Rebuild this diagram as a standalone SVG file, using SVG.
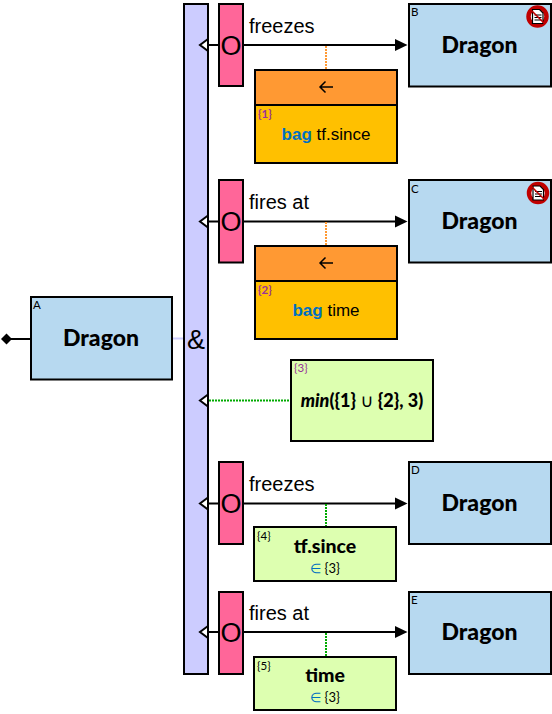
<svg xmlns="http://www.w3.org/2000/svg" width="552" height="714" viewBox="0 0 552 714">
<style>
.box{stroke:#000;stroke-width:2}
.ent{fill:#b7d9f0}
.pink{fill:#ff6699}
.calc{fill:#ddffb0}
.orange{fill:#ff9933}
.gold{fill:#ffc000}
.bar{fill:#ccccff}
.big{font:900 23px Lato,"Liberation Sans",sans-serif;text-anchor:middle}
.mid{font:900 19.500px Lato,"Liberation Sans",sans-serif;text-anchor:middle}
.rel{font:20px "Liberation Sans",sans-serif}
.t{font:17px "Liberation Sans",sans-serif;text-anchor:middle}
.sym{font:27px "Liberation Sans",sans-serif;text-anchor:middle}
.tag{font:11.500px Lato,"Liberation Sans",sans-serif}
.ref{font:bold 11.500px Lato,"Liberation Sans",sans-serif;fill:#993399}
.kw{font-weight:bold;fill:#0070c0}
.line{stroke:#000;stroke-width:2;fill:none}
.dotg{stroke:#00aa00;stroke-width:2;stroke-dasharray:2 1;fill:none}
.doto{stroke:#ff9933;stroke-width:2;stroke-dasharray:2 1;fill:none}
.open{fill:#fff;stroke:#000;stroke-width:2}
</style>
<defs>
<g id="noedit">
<circle r="9" fill="#fff" stroke="#c00000" stroke-width="4.500"/>
<path d="M-5-7H2L5.500-3.500V7H-5Z" fill="#fff" stroke="#000" stroke-width="1.200"/>
<path d="M-3-1.500H4M-3 1H4M-3 3.500H4" stroke="#000" stroke-width="1.200"/>
<path d="M-7-7L7 7" stroke="#c00000" stroke-width="1.500"/>
</g>
</defs>
<g id="connectors">
<path class="line" d="M6 339H31"/>
<path d="M1 339L6.500 333.500L12 339L6.500 344.500Z" fill="#000"/>
<path d="M172 338.500H184" stroke="#ccccff" stroke-width="2"/>
<path class="line" d="M208 45H396"/><path d="M395 39L407.500 45L395 51Z" fill="#000"/>
<path class="line" d="M208 221.500H396"/><path d="M395 215.500L407.500 221.500L395 227.500Z" fill="#000"/>
<path class="line" d="M208 503.500H396"/><path d="M395 497.500L407.500 503.500L395 509.500Z" fill="#000"/>
<path class="line" d="M208 632H396"/><path d="M395 626L407.500 632L395 638Z" fill="#000"/>
<path class="doto" d="M326 46V69"/>
<path class="doto" d="M326 222V245"/>
<path class="dotg" d="M326 504V527"/>
<path class="dotg" d="M326 633V657"/>
<path class="dotg" d="M209 400.500H290"/>
</g>
<g id="bar"><rect class="box bar" x="184" y="4" width="24" height="670"/>
<text class="sym" x="196" y="349">&amp;</text>
<path class="open" d="M208 39L200 45L208 51Z"/>
<path class="open" d="M208 215.500L200 221.500L208 227.500Z"/>
<path class="open" d="M208 394.500L200 400.500L208 406.500Z"/>
<path class="open" d="M208 497.500L200 503.500L208 509.500Z"/>
<path class="open" d="M208 626L200 632L208 638Z"/>
</g>
<g id="nodeA"><rect class="box ent" x="31" y="297" width="141" height="82.500"/><text class="tag" x="33" y="309">A</text><text class="big" x="101" y="346">Dragon</text></g>
<g id="or1"><rect class="box pink" x="219" y="4" width="24" height="82"/><text class="sym" x="231" y="54.500">O</text></g>
<g id="or2"><rect class="box pink" x="219" y="180" width="24" height="82.500"/><text class="sym" x="231" y="230.500">O</text></g>
<g id="or3"><rect class="box pink" x="219" y="462" width="24" height="82"/><text class="sym" x="231" y="512.500">O</text></g>
<g id="or4"><rect class="box pink" x="219" y="592" width="24" height="82"/><text class="sym" x="231" y="641.500">O</text></g>
<text class="rel" x="249" y="33">freezes</text>
<text class="rel" x="249" y="209">fires at</text>
<text class="rel" x="249" y="491">freezes</text>
<text class="rel" x="249" y="620">fires at</text>
<g id="nodeB"><rect class="box ent" x="409" y="4" width="142" height="82.500"/><text class="tag" x="411" y="16">B</text><text class="big" x="479.500" y="53">Dragon</text><use href="#noedit" x="537.500" y="16.500"/></g>
<g id="nodeC"><rect class="box ent" x="409" y="180" width="142" height="82.500"/><text class="tag" x="411" y="193">C</text><text class="big" x="479.500" y="229">Dragon</text><use href="#noedit" x="538" y="193"/></g>
<g id="nodeD"><rect class="box ent" x="409" y="462" width="142" height="82"/><text class="tag" x="411" y="474">D</text><text class="big" x="479.500" y="511">Dragon</text></g>
<g id="nodeE"><rect class="box ent" x="409" y="592" width="142" height="82"/><text class="tag" x="411" y="604">E</text><text class="big" x="479.500" y="640">Dragon</text></g>
<g id="sort1"><rect class="box orange" x="255" y="70" width="142" height="35"/><rect class="box gold" x="255" y="105" width="142" height="58"/>
<path class="line" style="stroke-width:1.500" d="M333 87H320M325.500 81.500L320 87L325.500 92.500"/>
<text class="ref" x="258" y="118">{1}</text><text class="t" x="326" y="140"><tspan class="kw">bag</tspan> tf.since</text></g>
<g id="sort2"><rect class="box orange" x="255" y="246" width="142" height="35"/><rect class="box gold" x="255" y="281" width="142" height="58"/>
<path class="line" style="stroke-width:1.500" d="M333 263H320M325.500 257.500L320 263L325.500 268.500"/>
<text class="ref" x="258" y="294">{2}</text><text class="t" x="326" y="316"><tspan class="kw">bag</tspan> time</text></g>
<g id="calc3"><rect class="box calc" x="291" y="360" width="142" height="81"/><text class="tag" x="294" y="372" fill="#993399">{3}</text>
<text class="mid" x="362" y="407" style="font-size:18px"><tspan font-style="italic">min</tspan>({1} <tspan font-weight="normal" font-family="DejaVu Sans">∪</tspan> {2}, 3)</text></g>
<g id="calc4"><rect class="box calc" x="254" y="527" width="142" height="54"/><text class="tag" x="257" y="540">{4}</text><text class="mid" x="325" y="553">tf.since</text>
<text x="325" y="573" font-family="Lato, sans-serif" font-size="13" text-anchor="middle"><tspan fill="#0070c0">∈</tspan> {3}</text></g>
<g id="calc5"><rect class="box calc" x="254" y="657" width="142" height="53"/><text class="tag" x="257" y="670">{5}</text><text class="mid" x="325" y="682">time</text>
<text x="325" y="702" font-family="Lato, sans-serif" font-size="13" text-anchor="middle"><tspan fill="#0070c0">∈</tspan> {3}</text></g>
</svg>
